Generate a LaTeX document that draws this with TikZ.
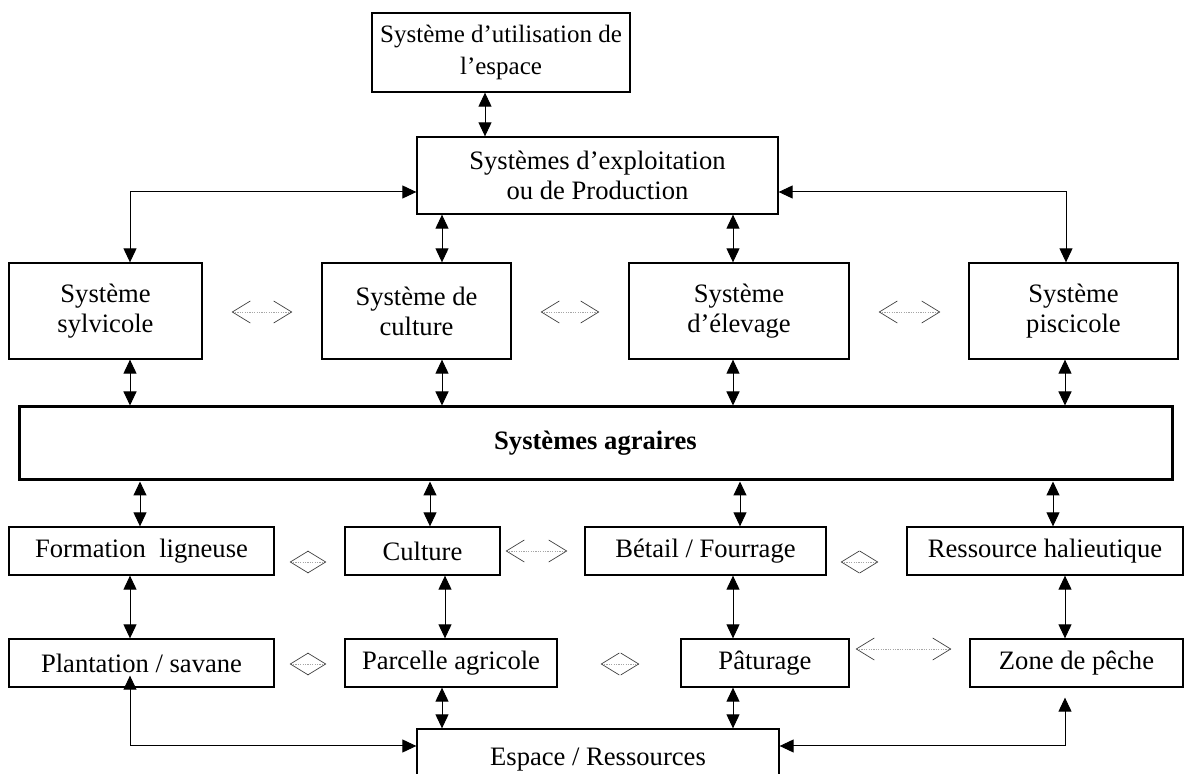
\documentclass[tikz,border=0pt]{standalone}
\usepackage{fontspec}
\setmainfont{Liberation Serif}
\usepackage{tikz}
\usetikzlibrary{arrows.meta,positioning}

\begin{document}
\begin{tikzpicture}[%
        x=0.5pt, y=-0.5pt,
        font=\fontsize{13.3}{15}\selectfont,
        boite/.style={%
          rectangle,
          draw,
          line width=0.65pt,
          align=center,
          inner sep=0pt
        },
        lien/.style={%
          {Triangle[length=7pt,width=6.5pt]}-{Triangle[length=7pt,width=6.5pt]},
          line width=0.5pt
        },
        echange/.style={%
          {Straight Barb[length=9pt,width=11pt,line width=0.35pt,color=black!75]}-{Straight Barb[length=9pt,width=11pt,line width=0.35pt,color=black!75]},
          draw=black!35,
          dash pattern=on 0.6pt off 0.6pt,
          line width=0.4pt
        }
      ]
      \useasboundingbox (0,0) rectangle (1185,774);

      \node[boite, minimum width=129pt, minimum height=39.5pt, font=\fontsize{12.5}{16}\selectfont] (util) at (501,52.5) {Système d’utilisation de\\l’espace};
      \node[boite, minimum width=180.5pt, minimum height=38.5pt] (prod) at (597.5,175.5) {Systèmes d’exploitation\\ou de Production};

      \node[boite, minimum width=96.5pt, minimum height=48pt] (sylv) at (105.5,311) {Système\\sylvicole};
      \node[boite, minimum width=94.5pt, minimum height=48pt] (cult) at (416.5,311) {Système de\\culture};
      \node[boite, minimum width=110pt, minimum height=48pt] (elev) at (739,311) {Système\\d’élevage};
      \node[boite, minimum width=104.5pt, minimum height=48pt] (pisc) at (1073.5,311) {Système\\piscicole};

      \node[boite, line width=1.5pt, minimum width=576.5pt, minimum height=36.5pt] (agr) at (595.5,443.5) {\textbf{Systèmes agraires}};

      \node[boite, minimum width=132.5pt, minimum height=24pt] (form) at (141.5,551) {Formation\ \ ligneuse};
      \node[boite, minimum width=77.5pt, minimum height=24pt] (cul) at (422.5,551) {Culture};
      \node[boite, minimum width=120.5pt, minimum height=24pt] (bet) at (705.5,551) {Bétail / Fourrage};
      \node[boite, minimum width=138pt, minimum height=24pt] (ress) at (1045,551) {Ressource halieutique};

      \node[boite, minimum width=132.5pt, minimum height=24pt] (plant) at (141.5,663) {Plantation / savane};
      \node[boite, minimum width=106pt, minimum height=24pt] (parc) at (451,663) {Parcelle agricole};
      \node[boite, minimum width=84pt, minimum height=24pt] (patu) at (765,663) {Pâturage};
      \node[boite, minimum width=106.5pt, minimum height=24pt] (zone) at (1076.5,663) {Zone de pêche};

      \node[boite, minimum width=181pt, minimum height=31pt] (esp) at (598,760) {Espace / Ressources};

      % liens verticaux
      \draw[lien] (util.south -| 485,0) -- (prod.north -| 485,0);
      \draw[lien] (prod.west |- 0,192) -| (sylv.north -| 130,0);
      \draw[lien] (prod.east |- 0,192) -| (pisc.north -| 1066,0);
      \draw[lien] (prod.south -| 442,0) -- (cult.north -| 442,0);
      \draw[lien] (prod.south -| 733,0) -- (elev.north -| 733,0);

      \draw[lien] (sylv.south -| 130,0) -- (agr.north -| 130,0);
      \draw[lien] (cult.south -| 442,0) -- (agr.north -| 442,0);
      \draw[lien] (elev.south -| 733,0) -- (agr.north -| 733,0);
      \draw[lien] (pisc.south -| 1065,0) -- (agr.north -| 1065,0);

      \draw[lien] (agr.south -| 140,0) -- (form.north -| 140,0);
      \draw[lien] (agr.south -| 430,0) -- (cul.north -| 430,0);
      \draw[lien] (agr.south -| 740,0) -- (bet.north -| 740,0);
      \draw[lien] (agr.south -| 1053,0) -- (ress.north -| 1053,0);

      \draw[lien] (form.south -| 130,0) -- (plant.north -| 130,0);
      \draw[lien] (cul.south -| 445,0) -- (parc.north -| 445,0);
      \draw[lien] (bet.south -| 733,0) -- (patu.north -| 733,0);
      \draw[lien] (ress.south -| 1065,0) -- (zone.north -| 1065,0);

      \draw[lien] (parc.south -| 442,0) -- (esp.north -| 442,0);
      \draw[lien] (patu.south -| 733,0) -- (esp.north -| 733,0);
      \draw[lien, shorten >=-6pt] (esp.west |- 0,746) -| (plant.south -| 130,0);
      \draw[lien, shorten >=5pt] (esp.east |- 0,746) -| (zone.south -| 1065,0);

      % echanges
      \draw[echange, shorten <=14.5pt, shorten >=14.5pt] (sylv.east |- 0,312) -- (cult.west |- 0,312);
      \draw[echange, shorten <=14.5pt, shorten >=14.5pt] (cult.east |- 0,312) -- (elev.west |- 0,312);
      \draw[echange, shorten <=14.5pt, shorten >=14pt] (elev.east |- 0,312) -- (pisc.west |- 0,312);

      \draw[echange, shorten <=7.5pt, shorten >=9pt] (form.east |- 0,562) -- (cul.west |- 0,562);
      \draw[echange, shorten <=2.5pt, shorten >=8.5pt] (cul.east |- 0,551) -- (bet.west |- 0,551);
      \draw[echange, shorten <=7pt, shorten >=14pt] (bet.east |- 0,562) -- (ress.west |- 0,562);

      \draw[echange, shorten <=7.5pt, shorten >=9pt] (plant.east |- 0,664) -- (parc.west |- 0,664);
      \draw[echange, shorten <=21.5pt, shorten >=20.5pt] (parc.east |- 0,664) -- (patu.west |- 0,664);
      \draw[echange, shorten <=3pt, shorten >=9pt] (patu.east |- 0,649) -- (zone.west |- 0,649);
    \end{tikzpicture}
\end{document}
